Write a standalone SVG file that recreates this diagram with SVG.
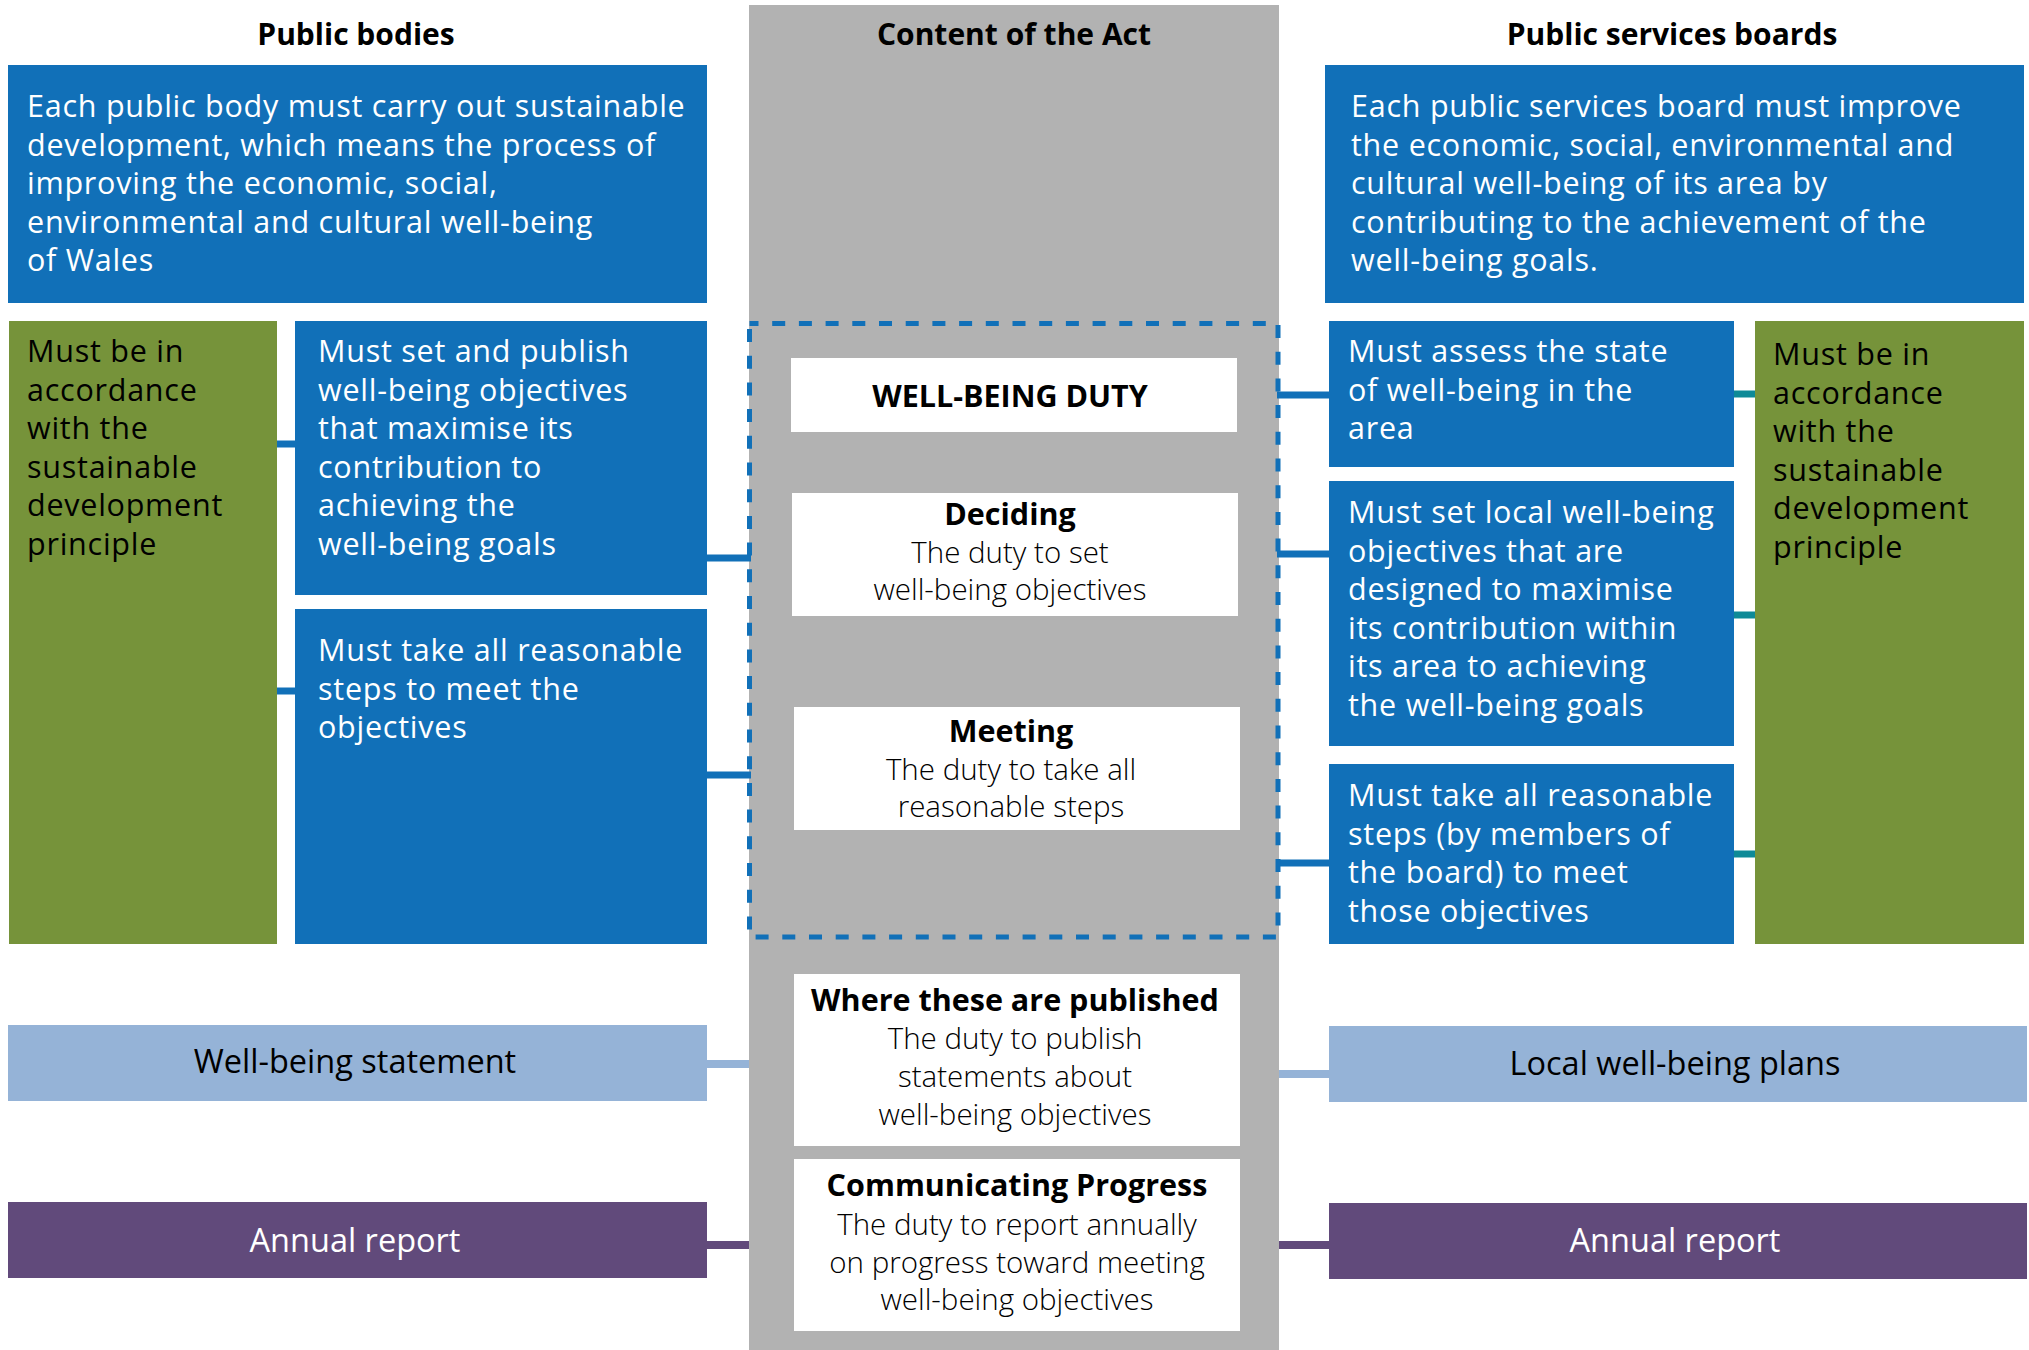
<svg xmlns="http://www.w3.org/2000/svg" width="2029" height="1350" viewBox="0 0 2029 1350">
<style>
text{font-family:"Open Sans","Noto Sans","Liberation Sans",sans-serif;font-size:30.5px;letter-spacing:0.75px}
.w{fill:#ffffff}
.k{fill:#000000}
.b{font-weight:bold;font-size:30.5px;letter-spacing:0}
.c{text-anchor:middle}
.lt{font-weight:300;font-size:29.5px;letter-spacing:0}
.lab{font-size:32.5px;letter-spacing:0}
.h{font-weight:bold;font-size:30px;text-anchor:middle;fill:#000;letter-spacing:0}
.blue{fill:#1170b8}
.green{fill:#76933a}
.lb{fill:#95b3d7}
.pu{fill:#614a7b}
.wh{fill:#ffffff}
.cb{stroke:#1170b8;stroke-width:7}
.ct{stroke:#0e8a97;stroke-width:7}
.cl{stroke:#95b3d7;stroke-width:8}
.cp{stroke:#614a7b;stroke-width:8}
</style>
<rect x="0" y="0" width="2029" height="1350" fill="#ffffff"/>
<g id="act-column">
<rect x="749" y="5" width="530" height="1345" fill="#b2b2b2"/>
<text class="h" x="1014" y="45">Content of the Act</text>
</g>
<g id="titles">
<text class="h" x="356" y="45">Public bodies</text>
<text class="h" x="1672" y="45">Public services boards</text>
</g>
<g id="connectors">
<line class="cb" x1="277" y1="444" x2="295" y2="444"/>
<line class="cb" x1="277" y1="691" x2="295" y2="691"/>
<line class="cb" x1="707" y1="558" x2="751" y2="558"/>
<line class="cb" x1="707" y1="775" x2="751" y2="775"/>
<line class="cl" x1="707" y1="1064" x2="749" y2="1064"/>
<line class="cp" x1="707" y1="1245" x2="749" y2="1245"/>
<line class="cb" x1="1277" y1="395" x2="1329" y2="395"/>
<line class="cb" x1="1277" y1="554" x2="1329" y2="554"/>
<line class="cb" x1="1277" y1="863" x2="1329" y2="863"/>
<line class="ct" x1="1734" y1="394" x2="1755" y2="394"/>
<line class="ct" x1="1734" y1="615" x2="1755" y2="615"/>
<line class="ct" x1="1734" y1="854" x2="1755" y2="854"/>
<line class="cl" x1="1279" y1="1074" x2="1329" y2="1074"/>
<line class="cp" x1="1279" y1="1245" x2="1329" y2="1245"/>
</g>
<g id="wellbeing-duty-frame">
<rect x="749.5" y="323.5" width="528.5" height="613.5" fill="none" stroke="#1170b8" stroke-width="5" stroke-dasharray="13 13.7" stroke-dashoffset="4"/>
</g>
<g id="pb-intro">
<rect class="blue" x="8" y="65" width="699" height="238"/>
<text class="w" x="27"><tspan x="27" y="117">Each public body must carry out sustainable</tspan><tspan x="27" y="155.5">development, which means the process of</tspan><tspan x="27" y="194">improving the economic, social,</tspan><tspan x="27" y="232.5">environmental and cultural well-being</tspan><tspan x="27" y="271">of Wales</tspan></text>
</g>
<g id="pb-principle">
<rect class="green" x="9" y="321" width="268" height="623"/>
<text class="k" x="27"><tspan x="27" y="362">Must be in</tspan><tspan x="27" y="400.5">accordance</tspan><tspan x="27" y="439">with the</tspan><tspan x="27" y="477.5">sustainable</tspan><tspan x="27" y="516">development</tspan><tspan x="27" y="554.5">principle</tspan></text>
</g>
<g id="pb-set">
<rect class="blue" x="295" y="321" width="412" height="274"/>
<text class="w"><tspan x="318" y="362">Must set and publish</tspan><tspan x="318" y="400.5">well-being objectives</tspan><tspan x="318" y="439">that maximise its</tspan><tspan x="318" y="477.5">contribution to</tspan><tspan x="318" y="516">achieving the</tspan><tspan x="318" y="554.5">well-being goals</tspan></text>
</g>
<g id="pb-take">
<rect class="blue" x="295" y="609" width="412" height="335"/>
<text class="w"><tspan x="318" y="661">Must take all reasonable</tspan><tspan x="318" y="699.5">steps to meet the</tspan><tspan x="318" y="738">objectives</tspan></text>
</g>
<g id="pb-statement">
<rect class="lb" x="8" y="1025" width="699" height="76"/>
<text class="k c lab" x="355" y="1073">Well-being statement</text>
</g>
<g id="pb-annual">
<rect class="pu" x="8" y="1202" width="699" height="76"/>
<text class="w c lab" x="355" y="1252">Annual report</text>
</g>
<g id="duty">
<rect class="wh" x="791" y="358" width="446" height="74"/>
<text class="k b c" x="1010" y="407">WELL-BEING DUTY</text>
</g>
<g id="deciding">
<rect class="wh" x="792" y="493" width="446" height="123"/>
<text class="k c"><tspan class="b" x="1010" y="525">Deciding</tspan><tspan class="lt" x="1010" y="563">The duty to set</tspan><tspan class="lt" x="1010" y="600">well-being objectives</tspan></text>
</g>
<g id="meeting">
<rect class="wh" x="794" y="707" width="446" height="123"/>
<text class="k c"><tspan class="b" x="1011" y="742">Meeting</tspan><tspan class="lt" x="1011" y="780">The duty to take all</tspan><tspan class="lt" x="1011" y="817">reasonable steps</tspan></text>
</g>
<g id="published">
<rect class="wh" x="794" y="974" width="446" height="172"/>
<text class="k c"><tspan class="b" x="1015" y="1011">Where these are published</tspan><tspan class="lt" x="1015" y="1049">The duty to publish</tspan><tspan class="lt" x="1015" y="1087">statements about</tspan><tspan class="lt" x="1015" y="1125">well-being objectives</tspan></text>
</g>
<g id="communicating">
<rect class="wh" x="794" y="1159" width="446" height="172"/>
<text class="k c"><tspan class="b" x="1017" y="1196">Communicating Progress</tspan><tspan class="lt" x="1017" y="1235">The duty to report annually</tspan><tspan class="lt" x="1017" y="1273">on progress toward meeting</tspan><tspan class="lt" x="1017" y="1310">well-being objectives</tspan></text>
</g>
<g id="psb-intro">
<rect class="blue" x="1325" y="65" width="699" height="238"/>
<text class="w"><tspan x="1351" y="117">Each public services board must improve</tspan><tspan x="1351" y="155.5">the economic, social, environmental and</tspan><tspan x="1351" y="194">cultural well-being of its area by</tspan><tspan x="1351" y="232.5">contributing to the achievement of the</tspan><tspan x="1351" y="271">well-being goals.</tspan></text>
</g>
<g id="psb-assess">
<rect class="blue" x="1329" y="321" width="405" height="146"/>
<text class="w"><tspan x="1348" y="362">Must assess the state</tspan><tspan x="1348" y="400.5">of well-being in the</tspan><tspan x="1348" y="439">area</tspan></text>
</g>
<g id="psb-set">
<rect class="blue" x="1329" y="481" width="405" height="265"/>
<text class="w"><tspan x="1348" y="523">Must set local well-being</tspan><tspan x="1348" y="561.5">objectives that are</tspan><tspan x="1348" y="600">designed to maximise</tspan><tspan x="1348" y="638.5">its contribution within</tspan><tspan x="1348" y="677">its area to achieving</tspan><tspan x="1348" y="715.5">the well-being goals</tspan></text>
</g>
<g id="psb-take">
<rect class="blue" x="1329" y="764" width="405" height="180"/>
<text class="w"><tspan x="1348" y="806">Must take all reasonable</tspan><tspan x="1348" y="844.5">steps (by members of</tspan><tspan x="1348" y="883">the board) to meet</tspan><tspan x="1348" y="921.5">those objectives</tspan></text>
</g>
<g id="psb-principle">
<rect class="green" x="1755" y="321" width="269" height="623"/>
<text class="k"><tspan x="1773" y="365">Must be in</tspan><tspan x="1773" y="403.5">accordance</tspan><tspan x="1773" y="442">with the</tspan><tspan x="1773" y="480.5">sustainable</tspan><tspan x="1773" y="519">development</tspan><tspan x="1773" y="557.5">principle</tspan></text>
</g>
<g id="psb-plans">
<rect class="lb" x="1329" y="1026" width="698" height="76"/>
<text class="k c lab" x="1675" y="1075">Local well-being plans</text>
</g>
<g id="psb-annual">
<rect class="pu" x="1329" y="1203" width="698" height="76"/>
<text class="w c lab" x="1675" y="1252">Annual report</text>
</g>
</svg>
